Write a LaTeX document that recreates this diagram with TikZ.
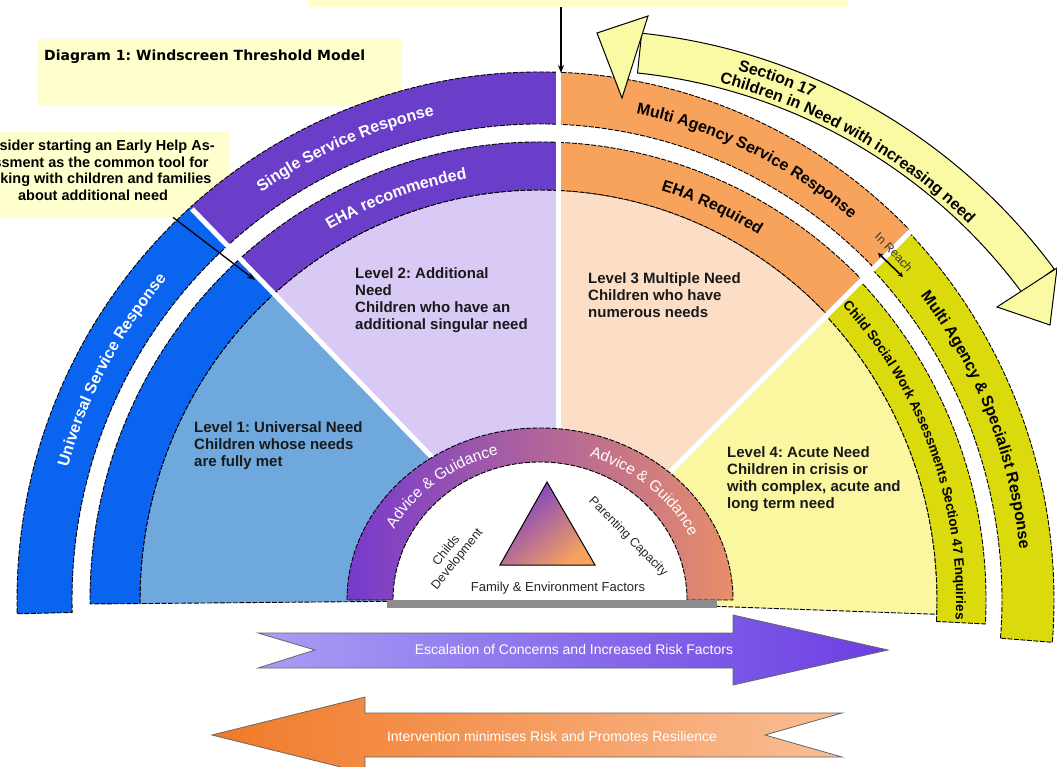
\documentclass[tikz,border=0pt]{standalone}
\usepackage{fontspec}
\setmainfont{Liberation Sans}
\newfontfamily\dejavu{DejaVu Sans}
\usetikzlibrary{arrows.meta,decorations.text}
\frenchspacing

\definecolor{uniblue}{RGB}{10,100,240}
\definecolor{lvlonefill}{RGB}{111,168,220}
\definecolor{singlepurple}{RGB}{106,62,200}
\definecolor{lvltwofill}{RGB}{216,201,245}
\definecolor{multiorange}{RGB}{247,163,92}
\definecolor{lvlthreefill}{RGB}{252,222,198}
\definecolor{specyellow}{RGB}{218,218,12}
\definecolor{lvlfourfill}{RGB}{250,247,160}
\definecolor{notefill}{RGB}{255,255,206}
\definecolor{sectionfill}{RGB}{250,250,165}
\definecolor{guideleft}{RGB}{118,58,205}
\definecolor{guideright}{RGB}{232,142,105}
\definecolor{escleft}{RGB}{168,158,245}
\definecolor{escright}{RGB}{108,62,226}
\definecolor{intleft}{RGB}{240,122,40}
\definecolor{intright}{RGB}{250,190,150}

\newcommand\fs[2]{\fontsize{#1}{#2}\selectfont}
% ring segment between two ellipses (start, end, inner rx, ry, outer rx, ry)
\newcommand\ringseg[6]{(#1:#3 and #4) arc[start angle=#1, end angle=#2, x radius=#3, y radius=#4]
  -- (#2:#5 and #6) arc[start angle=#2, end angle=#1, x radius=#5, y radius=#6] -- cycle}

\tikzset{
  edge/.style={draw=black, line width=0.9pt, dash pattern=on 5pt off 1.5pt},
  gapline/.style={draw=white, line width=5pt},
  notebox/.style={fill=notefill, inner sep=0pt},
  notetext/.style={anchor=base, align=center, inner sep=0pt, font=\fs{14.5}{16.5}\bfseries},
  levellbl/.style={anchor=base west, align=left, inner sep=0pt, font=\fs{15}{17}\bfseries, text=black!90},
  innerlbl/.style={inner sep=0pt, align=center, font=\fs{12.5}{14}, text=black!85},
  arrowedge/.style={draw=black!60, line width=0.8pt},
  arrowlbl/.style={inner sep=0pt, text=white, font=\fs{14}{16}},
  pointer/.style={-{Stealth[length=8pt,width=6pt]}, line width=1.3pt},
}

\begin{document}
\begin{tikzpicture}[x=1pt,y=1pt]
  \useasboundingbox (0,0) rectangle (1057,-767);

  % notes
  \node[notebox, minimum width=540pt, minimum height=40pt, anchor=south west] (threshnote) at (308,-7) {};
  \node[notebox, minimum width=365pt, minimum height=67pt, anchor=north west] (titlebox) at (37,-39) {};
  \node[anchor=base west, inner sep=0pt, font=\dejavu\bfseries\fs{14}{16}] (title) at (44,-61)
    {Diagram 1: Windscreen Threshold Model};
  \node[notebox, minimum width=280pt, minimum height=85pt, anchor=north east] (ehanote) at (230,-132) {};
  \node[notetext] (ehatext) at (93,-200.5)
    {Consider starting an Early Help As-\\sessment as the common tool for\\working with children and families\\about additional need};

  % level 1 / universal
  \begin{scope}
    \clip (-100,-640) -- (570,-640) -- (570,-600) -- (-55,47) -- (-100,47) -- cycle;
    \begin{scope}[shift={(540,-600)}]
      \filldraw[edge, fill=lvlonefill] (0,0) -- (100:400 and 410)
        arc[start angle=100, end angle=180.5, x radius=400, y radius=410] -- cycle;
      \filldraw[edge, fill=uniblue] \ringseg{100}{180.5}{400}{410}{450}{458};
      \filldraw[edge, fill=uniblue] \ringseg{100}{181.5}{468}{476}{523}{528};
    \end{scope}
  \end{scope}
  % level 2 / single service
  \begin{scope}
    \clip (570,-600) -- (-55,47) -- (558,47) -- (558,-600) -- cycle;
    \begin{scope}[shift={(540,-600)}]
      \filldraw[edge, fill=lvltwofill] (0,0) -- (80:400 and 410)
        arc[start angle=80, end angle=160, x radius=400, y radius=410] -- cycle;
      \filldraw[edge, fill=singlepurple] \ringseg{80}{160}{400}{410}{450}{458};
      \filldraw[edge, fill=singlepurple] \ringseg{80}{160}{468}{476}{523}{528};
    \end{scope}
  \end{scope}
  % level 3 / multi agency
  \begin{scope}
    \clip (558,60) -- (558,-600) -- (542,-600) -- (1200,58) -- (1200,60) -- cycle;
    \begin{scope}[shift={(540,-600)}]
      \filldraw[edge, fill=lvlthreefill] (0,0) -- (20:400 and 410)
        arc[start angle=20, end angle=100, x radius=400, y radius=410] -- cycle;
      \filldraw[edge, fill=multiorange] \ringseg{20}{100}{400}{410}{450}{458};
      \filldraw[edge, fill=multiorange] \ringseg{20}{100}{466}{476}{518}{528};
    \end{scope}
  \end{scope}
  % level 4 / specialist
  \begin{scope}
    \clip (542,-600) -- (1200,58) -- (1200,-700) -- (542,-700) -- cycle;
    \begin{scope}[shift={(540,-600)}]
      \filldraw[edge, fill=lvlfourfill] (0,0) -- (-2:397 and 410)
        arc[start angle=-2, end angle=60, x radius=397, y radius=410] -- cycle;
      \filldraw[edge, fill=specyellow] \ringseg{-3}{60}{397}{410}{446}{458};
      \filldraw[edge, fill=specyellow] \ringseg{-4.6}{60}{462}{476}{514}{528};
    \end{scope}
  \end{scope}

  % white gaps between levels
  \draw[gapline] (570,-600) -- (192,-209);
  \draw[gapline] (558,-600) -- (558,-60);
  \draw[gapline] (542,-600) -- (945,-197);

  % advice and guidance
  \begin{scope}[shift={(540,-600)}]
    \fill[white] (0:193 and 172) arc[start angle=0, end angle=180, x radius=193, y radius=172] -- cycle;
    \shadedraw[left color=guideleft, right color=guideright, edge] \ringseg{0}{180}{147}{138}{193}{172};
    \path[decorate, decoration={text along path, text align=center,
      text={|\fs{15.5}{16}\color{white}|Advice {\&} Guidance}}]
      (170:165 and 150) arc[start angle=170, end angle=88, x radius=165, y radius=150];
    \path[decorate, decoration={text along path, text align=center,
      text={|\fs{15.5}{16}\color{white}|Advice {\&} Guidance}}]
      (89:165 and 150) arc[start angle=89, end angle=7, x radius=165, y radius=150];
  \end{scope}
  \fill[black!45] (387,-600) rectangle (717,-608);
  \shadedraw[left color=guideleft, right color=multiorange, shading angle=40,
    draw=black, line width=1pt] (547,-482) -- (595,-565) -- (500,-565) -- cycle;
  \node[innerlbl, rotate=51] (childdev) at (452,-555) {Childs\\Development};
  \node[innerlbl, rotate=-45] (parenting) at (628,-537) {Parenting Capacity};
  \node[innerlbl, font=\fs{13}{14}] (family) at (558,-588) {Family \& Environment Factors};

  % section 17 arrow
  \begin{scope}[shift={(580,-620)}]
    \filldraw[fill=sectionfill, draw=black, line width=1pt] \ringseg{84}{36.5}{550}{550}{590}{590};
  \end{scope}
  \filldraw[fill=sectionfill, draw=black, line width=1pt] (597,-33) -- (648,-16) -- (622,-98) -- cycle;
  \filldraw[fill=sectionfill, draw=black, line width=1pt] (997,-307) -- (1057,-268) -- (1050,-325) -- cycle;
  \begin{scope}[shift={(580,-620)}]
    \path[decorate, decoration={text along path, text align=center,
      text={|\fs{16}{16}\bfseries|Section 17}}]
      (90:572 and 572) arc[start angle=90, end angle=50, radius=572];
    \path[decorate, decoration={text along path, text align=center,
      text={|\fs{16}{16}\bfseries|Children in Need with increasing need}}]
      (95:555 and 555) arc[start angle=95, end angle=26, radius=555];
  \end{scope}

  % band labels
  \begin{scope}[shift={(540,-600)}]
    \path[decorate, decoration={text along path, text align=center,
      text={|\fs{16}{16}\bfseries\color{white}|Universal Service Response}}]
      (182:490 and 496) arc[start angle=182, end angle=122, x radius=490, y radius=496];
    \path[decorate, decoration={text along path, text align=center,
      text={|\fs{16}{16}\bfseries\color{white}|Single Service Response}}]
      (143.5:490 and 496) arc[start angle=143.5, end angle=83.5, x radius=490, y radius=496];
    \path[decorate, decoration={text along path, text align=center,
      text={|\fs{16}{16}\bfseries\color{white}|EHA recommended}}]
      (140:419 and 428) arc[start angle=140, end angle=80, x radius=419, y radius=428];
    \path[decorate, decoration={text along path, text align=center,
      text={|\fs{16}{16}\bfseries|Multi Agency Service Response}}]
      (95:486 and 496) arc[start angle=95, end angle=34, x radius=486, y radius=496];
    \path[decorate, decoration={text along path, text align=center,
      text={|\fs{16}{16}\bfseries|EHA Required}}]
      (96:419 and 428) arc[start angle=96, end angle=36, x radius=419, y radius=428];
    \path[decorate, decoration={text along path, text align=center,
      text={|\fs{12}{12}\color{black!80}|In Reach}}]
      (54:488 and 497) arc[start angle=54, end angle=34, x radius=488, y radius=497];
    \path[decorate, decoration={text along path, text align=center,
      text={|\fs{16}{16}\bfseries|Multi Agency {\&} Specialist Response}}]
      (52:482 and 496) arc[start angle=52, end angle=-8, x radius=482, y radius=496];
    \path[decorate, decoration={text along path, text align=center,
      text={|\fs{13.5}{14}\bfseries|Child Social Work Assessments Section 47 Enquiries}}]
      (56:416 and 428) arc[start angle=56, end angle=-15, x radius=416, y radius=428];
  \end{scope}

  % level labels
  \node[levellbl] (levelone) at (194,-466) {Level 1: Universal Need\\Children whose needs\\are fully met};
  \node[levellbl] (leveltwo) at (355,-329) {Level 2: Additional\\Need\\Children who have an\\additional singular need};
  \node[levellbl] (levelthree) at (588,-317) {Level 3 Multiple Need\\Children who have\\numerous needs};
  \node[levellbl] (levelfour) at (727,-508) {Level 4: Acute Need\\Children in crisis or\\with complex, acute and\\long term need};

  % pointers
  \coordinate (thresh) at (561,-73);
  \coordinate (ehatip) at (255,-280);
  \coordinate (reachin) at (878,-253);
  \coordinate (reachout) at (903,-277);
  \draw[pointer] (threshnote.south -| thresh) -- (thresh);
  \draw[pointer] ([xshift=-57pt]ehanote.south east) -- (ehatip);
  \draw[{Stealth[length=5pt,width=5pt]}-{Stealth[length=5pt,width=5pt]}, line width=1.6pt] (reachin) -- (reachout);

  % bottom arrows
  \shadedraw[left color=escleft, right color=escright, arrowedge] (258,-633) -- (733,-633) -- (733,-615)
    -- (888,-650) -- (733,-685) -- (733,-668) -- (258,-668) -- (315,-650) -- cycle;
  \node[arrowlbl] (escalate) at (574,-649) {Escalation of Concerns and Increased Risk Factors};
  \shadedraw[left color=intleft, right color=intright, arrowedge] (212,-735) -- (365,-697) -- (365,-713)
    -- (842,-713) -- (765,-735) -- (842,-757) -- (365,-757) -- (365,-773) -- cycle;
  \node[arrowlbl] (intervene) at (552,-736) {Intervention minimises Risk and Promotes Resilience};
\end{tikzpicture}
\end{document}
